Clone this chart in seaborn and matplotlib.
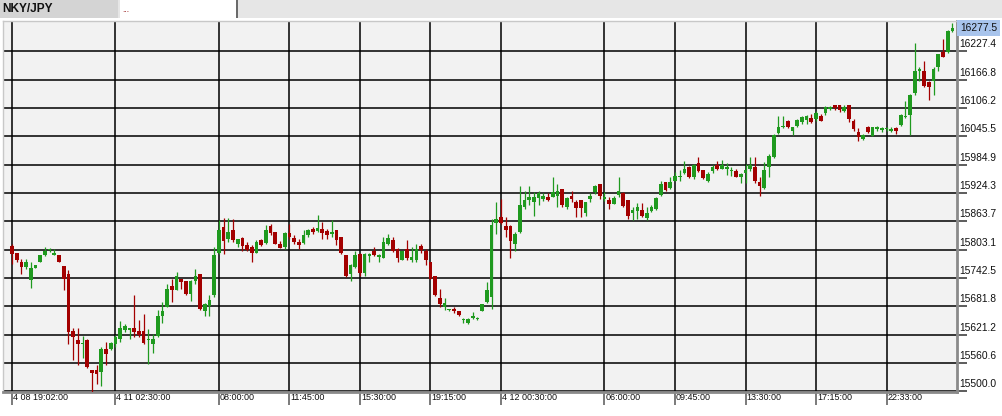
import pandas as pd
import seaborn as sns
import matplotlib.pyplot as plt
from matplotlib.patches import Rectangle
from matplotlib import transforms

# 15-minute candles, NKY/JPY
opens = [15810.9, 15795.9, 15776.6, 15765.9, 15737.3, 15764.5, 15776.6, 15790.9, 15801.6, 15792.3,
         15790.9, 15767.3, 15750.2, 15628.1, 15610.2, 15601.7, 15610.2, 15546.0, 15544.6, 15541.0,
         15589.5, 15589.5, 15600.2, 15612.4, 15630.2, 15632.0, 15635.2, 15630.0, 15630.0, 15609.0,
         15602.0, 15617.4, 15660.9, 15680.2, 15725.2, 15717.3, 15739.5, 15735.9, 15707.3, 15735.0,
         15750.2, 15671.6, 15681.6, 15705.2, 15795.9, 15851.6, 15826.6, 15844.4, 15814.4, 15828.7,
         15812.3, 15808.7, 15795.9, 15823.0, 15817.3, 15853.0, 15840.9, 15814.4, 15808.7, 15838.7,
         15828.7, 15819.4, 15817.3, 15833.7, 15848.0, 15843.0, 15846.6, 15843.0, 15835.9, 15844.4,
         15830.1, 15790.9, 15750.2, 15765.9, 15794.5, 15753.0, 15788.7, 15800.2, 15787.3, 15785.9,
         15815.9, 15824.4, 15805.2, 15780.2, 15805.2, 15780.2, 15780.2, 15810.2, 15800.2, 15776.6,
         15745.9, 15700.2, 15680.2, 15673.0, 15676.6, 15670.9, 15651.6, 15646.0, 15657.3, 15653.8,
         15671.6, 15690.9, 15701.6, 15859.3, 15872.2, 15854.3, 15854.3, 15815.0, 15840.0, 15895.0,
         15909.3, 15904.3, 15913.6, 15911.4, 15915.0, 15916.4, 15918.6, 15932.9, 15895.0, 15918.6,
         15904.3, 15909.3, 15880.7, 15911.4, 15925.7, 15943.6, 15911.4, 15909.3, 15900.7, 15920.7,
         15923.6, 15909.3, 15880.7, 15885.0, 15887.9, 15870.7, 15885.0, 15890.0, 15920.7, 15947.1,
         15934.3, 15950.7, 15957.9, 15966.4, 15979.3, 15957.9, 15987.8, 15973.6, 15949.3, 15970.7,
         15985.0, 15975.7, 15975.7, 15972.1, 15970.7, 15959.3, 15966.4, 15975.7, 15979.3, 15947.1,
         15935.0, 15979.3, 16000.7, 16052.1, 16065.0, 16079.2, 16056.4, 16068.5, 16075.7, 16080.7,
         16085.0, 16082.8, 16090.0, 16095.0, 16103.6, 16112.8, 16112.8, 16099.2, 16112.8, 16079.2,
         16054.2, 16040.0, 16065.0, 16047.1, 16061.4, 16059.2, 16061.4, 16057.8, 16063.5, 16070.6,
         16086.4, 16092.1, 16137.8, 16186.4, 16184.9, 16161.3, 16165.0, 16194.9, 16225.6, 16225.6,
         16270.6]
highs = [15815.9, 15796.0, 15783.7, 15783.7, 15776.6, 15770.0, 15792.3, 15808.7, 15806.0, 15805.2,
         15791.0, 15767.3, 15758.7, 15636.0, 15636.0, 15617.4, 15611.0, 15546.0, 15555.3, 15594.5,
         15605.2, 15605.0, 15619.5, 15650.2, 15643.0, 15636.0, 15705.2, 15653.0, 15664.5, 15633.8,
         15623.0, 15673.0, 15690.9, 15730.2, 15740.9, 15755.2, 15740.0, 15737.0, 15737.3, 15760.9,
         15750.2, 15688.0, 15705.2, 15808.7, 15865.8, 15871.6, 15871.6, 15869.4, 15827.0, 15830.0,
         15819.4, 15812.3, 15823.0, 15826.6, 15855.1, 15857.3, 15841.0, 15821.6, 15840.9, 15858.7,
         15833.7, 15826.6, 15844.4, 15848.0, 15851.6, 15876.5, 15862.0, 15848.0, 15866.0, 15845.0,
         15830.5, 15791.0, 15773.0, 15800.2, 15795.0, 15796.0, 15795.0, 15808.7, 15794.5, 15830.1,
         15835.9, 15830.1, 15806.0, 15801.0, 15824.4, 15808.7, 15815.9, 15815.9, 15805.2, 15777.0,
         15746.0, 15719.5, 15700.2, 15677.0, 15680.2, 15671.0, 15657.3, 15657.3, 15669.5, 15658.7,
         15687.3, 15733.8, 15868.6, 15904.3, 15911.5, 15872.2, 15855.0, 15840.0, 15940.0, 15927.9,
         15940.0, 15925.7, 15927.9, 15923.6, 15923.6, 15959.3, 15943.6, 15933.0, 15916.4, 15929.3,
         15909.3, 15910.0, 15905.0, 15923.6, 15942.1, 15944.0, 15925.7, 15916.4, 15918.6, 15959.3,
         15925.7, 15910.0, 15893.6, 15902.2, 15902.2, 15893.6, 15899.3, 15916.4, 15949.3, 15947.5,
         15959.3, 15968.6, 15973.6, 15992.1, 15982.9, 15985.7, 16000.7, 15974.0, 15968.6, 15985.0,
         15992.1, 15995.0, 15987.8, 15979.3, 15975.7, 15966.4, 15986.4, 16000.7, 16000.7, 15957.9,
         15990.0, 16007.8, 16050.7, 16089.9, 16089.9, 16080.7, 16065.5, 16082.8, 16089.9, 16092.1,
         16093.5, 16099.2, 16093.5, 16111.4, 16111.4, 16113.0, 16113.0, 16113.5, 16113.0, 16082.8,
         16063.5, 16050.7, 16068.5, 16065.5, 16068.5, 16066.4, 16066.4, 16065.0, 16066.4, 16093.5,
         16120.7, 16135.5, 16244.9, 16193.5, 16206.3, 16164.9, 16193.5, 16222.0, 16254.2, 16273.5,
         16287.7]
lows = [15773.0, 15776.0, 15750.2, 15762.3, 15721.6, 15763.0, 15775.9, 15790.0, 15798.0, 15792.0,
        15776.0, 15715.9, 15601.7, 15566.0, 15555.3, 15571.7, 15550.0, 15498.1, 15516.0, 15512.4,
        15555.3, 15588.0, 15594.5, 15605.0, 15626.7, 15612.4, 15616.0, 15616.0, 15600.2, 15557.4,
        15582.4, 15616.0, 15646.0, 15680.0, 15691.0, 15716.0, 15719.5, 15705.2, 15693.0, 15730.0,
        15673.0, 15660.2, 15660.2, 15701.6, 15794.5, 15793.0, 15819.0, 15819.4, 15808.7, 15800.2,
        15800.0, 15776.6, 15795.0, 15810.9, 15816.0, 15833.7, 15814.4, 15806.0, 15805.2, 15826.6,
        15815.9, 15805.2, 15815.9, 15830.0, 15835.9, 15841.0, 15826.6, 15826.6, 15830.0, 15812.3,
        15794.5, 15745.0, 15735.9, 15764.5, 15745.9, 15745.9, 15776.6, 15790.0, 15776.6, 15785.0,
        15812.3, 15798.0, 15776.6, 15780.0, 15780.2, 15776.6, 15776.6, 15795.9, 15769.5, 15739.5,
        15705.0, 15680.2, 15674.5, 15671.6, 15667.3, 15660.2, 15646.0, 15645.0, 15655.2, 15653.0,
        15671.0, 15690.0, 15676.6, 15836.5, 15857.9, 15829.3, 15785.1, 15800.8, 15839.0, 15890.0,
        15899.3, 15875.7, 15899.3, 15906.4, 15907.9, 15915.0, 15895.0, 15895.0, 15890.0, 15904.3,
        15873.6, 15873.6, 15875.7, 15904.3, 15922.1, 15911.4, 15907.9, 15890.0, 15900.0, 15915.0,
        15895.0, 15868.6, 15866.5, 15868.6, 15872.2, 15866.5, 15882.9, 15889.0, 15918.6, 15929.3,
        15932.9, 15950.0, 15949.3, 15965.0, 15956.4, 15954.3, 15970.0, 15954.3, 15949.0, 15966.4,
        15974.3, 15975.0, 15963.6, 15961.4, 15957.9, 15945.0, 15945.0, 15972.1, 15945.0, 15918.6,
        15932.9, 15959.3, 16000.0, 16050.7, 16063.5, 16063.5, 16049.3, 16065.0, 16072.1, 16072.1,
        16073.5, 16079.2, 16079.0, 16092.1, 16102.1, 16102.1, 16097.1, 16097.1, 16075.7, 16057.8,
        16035.0, 16037.8, 16052.1, 16047.0, 16057.8, 16054.2, 16057.8, 16054.2, 16050.7, 16068.5,
        16085.0, 16049.3, 16135.0, 16165.0, 16150.6, 16123.5, 16135.0, 16185.0, 16214.9, 16225.0,
        16270.0]
closes = [15794.4, 15780.2, 15765.9, 15776.6, 15764.5, 15769.5, 15790.9, 15800.2, 15805.2, 15795.9,
          15776.6, 15739.5, 15626.7, 15616.0, 15600.2, 15603.1, 15551.7, 15538.9, 15536.0, 15591.0,
          15580.2, 15603.8, 15615.9, 15635.2, 15638.8, 15635.0, 15626.7, 15619.5, 15603.1, 15612.4,
          15612.4, 15660.9, 15671.6, 15719.5, 15716.0, 15745.9, 15733.8, 15707.3, 15735.9, 15745.9,
          15676.6, 15685.9, 15694.5, 15790.9, 15844.4, 15821.6, 15840.9, 15823.0, 15826.6, 15810.2,
          15803.1, 15795.9, 15819.4, 15812.3, 15845.9, 15838.7, 15815.9, 15807.3, 15838.7, 15830.1,
          15819.4, 15812.3, 15833.7, 15845.9, 15840.9, 15849.4, 15839.4, 15835.2, 15840.9, 15824.4,
          15795.9, 15745.9, 15769.5, 15790.9, 15753.0, 15794.5, 15794.5, 15790.9, 15790.9, 15819.4,
          15828.7, 15800.2, 15785.9, 15800.2, 15785.9, 15787.3, 15805.2, 15803.1, 15781.6, 15740.9,
          15705.2, 15685.9, 15688.8, 15676.6, 15671.6, 15662.3, 15655.2, 15655.2, 15660.2, 15657.3,
          15685.9, 15717.3, 15855.1, 15868.6, 15859.3, 15845.0, 15820.8, 15836.5, 15899.3, 15909.3,
          15915.0, 15915.0, 15923.6, 15918.6, 15909.3, 15925.7, 15929.3, 15899.3, 15913.6, 15911.4,
          15892.2, 15892.2, 15904.3, 15918.6, 15940.0, 15918.6, 15915.0, 15900.7, 15913.6, 15929.3,
          15897.2, 15875.7, 15887.9, 15895.0, 15875.7, 15880.7, 15895.0, 15913.6, 15943.6, 15930.7,
          15948.6, 15961.4, 15961.4, 15975.7, 15957.9, 15985.0, 15970.7, 15956.4, 15965.0, 15979.3,
          15975.7, 15985.0, 15979.3, 15974.3, 15959.3, 15965.0, 15974.3, 15985.0, 15949.3, 15940.0,
          15974.3, 16004.3, 16049.3, 16065.0, 16068.5, 16065.0, 16065.0, 16080.7, 16086.4, 16089.9,
          16075.7, 16095.0, 16079.2, 16109.2, 16109.2, 16106.4, 16102.1, 16109.2, 16082.8, 16061.4,
          16045.0, 16048.5, 16054.2, 16065.0, 16066.4, 16063.5, 16063.5, 16061.4, 16057.8, 16092.1,
          16090.0, 16135.0, 16184.9, 16190.0, 16154.2, 16150.6, 16190.0, 16221.7, 16216.3, 16270.6,
          16277.5]

x_tick_pos = [0, 22, 44, 59, 74, 89, 104, 126, 141, 156, 171, 186]
x_tick_labels = ["4 08 19:02:00", "4 11 02:30:00", "08:00:00", "11:45:00", "15:30:00",
                 "19:15:00", "4 12 00:30:00", "06:00:00", "09:45:00", "13:30:00",
                 "17:15:00", "22:33:00"]
y_ticks = [15500.0, 15560.6, 15621.2, 15681.8, 15742.5, 15803.1, 15863.7,
           15924.3, 15984.9, 16045.5, 16106.2, 16166.8, 16227.4]
last_price = 16277.5

sns.set_style("white")
plt.rcParams['font.family'] = ['Liberation Sans', 'DejaVu Sans']

df = pd.DataFrame({'open': opens, 'high': highs, 'low': lows, 'close': closes})
df['up'] = df['close'] >= df['open']
df['bottom'] = df[['open', 'close']].min(axis=1)
df['size'] = (df['close'] - df['open']).abs().clip(lower=1.8)
colors = df['up'].map({True: '#1f9a1f', False: '#a30000'})

W, H = 1003, 416
fig = plt.figure(figsize=(W / 100, H / 100), dpi=100)
fig.patch.set_facecolor('white')


def px_rect(x0, y0, x1, y1, color):
    fig.patches.append(Rectangle((x0 / W, 1 - y1 / H), (x1 - x0) / W, (y1 - y0) / H,
                                 transform=fig.transFigure, color=color, lw=0, zorder=0))


# header bar
px_rect(0, 0, W, 18, '#e6e6e6')
px_rect(0, 0, 118, 18, '#d4d4d4')
px_rect(120, 0, 236, 18, 'white')
px_rect(236, 0, 238, 18, '#6a6a6a')
fig.text(2 / W, 1 - 9.5 / H, "NKY/JPY", fontsize=8.6, fontweight='bold', va='center', color='#111111')
fig.text(122 / W, 1 - 11 / H, "...", fontsize=6, va='center', color='#8b0000')

ax = fig.add_axes([3 / W, 1 - 392 / H, 954 / W, 371 / H])
ax.set_facecolor('#f2f2f2')

# candles
ax.vlines(df.index, df['low'], df['high'], colors=colors, lw=0.9, zorder=3)
ax.bar(df.index, df['size'], bottom=df['bottom'], width=0.78, color=colors, lw=0, zorder=4)

ax.set_xlim(-1.91, 200.98)
ax.set_ylim(15498.5, 16292.5)
ax.set_xticks(x_tick_pos)
ax.set_yticks(y_ticks)
ax.set_axisbelow(True)
ax.grid(True, color='black', lw=1.1)

ax.tick_params(axis='x', bottom=True, direction='out', length=9, width=1.3, color='#707070',
               labelbottom=False)
ax.tick_params(axis='y', left=False, right=True, direction='out', length=7, width=1.1,
               color='#303030', labelleft=False, labelright=False)

for side in ['left', 'top']:
    ax.spines[side].set_color('#c8c8c8')
    ax.spines[side].set_linewidth(1)
for side in ['right', 'bottom']:
    ax.spines[side].set_color('#8a8a8a')
    ax.spines[side].set_linewidth(2)

# y labels just above each grid line
ytr = transforms.offset_copy(transforms.blended_transform_factory(ax.transAxes, ax.transData),
                             fig=fig, x=2, y=2, units='dots')
for v in y_ticks:
    ax.text(1.0, v, f"{v:.1f}", transform=ytr, ha='left', va='bottom', fontsize=7.4,
            color='#111111', clip_on=False)

# current price box
ptr = transforms.offset_copy(transforms.blended_transform_factory(ax.transAxes, ax.transData),
                             fig=fig, x=3, y=0, units='dots')
ax.text(1.0, last_price, f"{last_price:.1f}", transform=ptr, ha='left', va='center', fontsize=7.4,
        color='#111111', clip_on=False,
        bbox=dict(facecolor='#a8c4ec', edgecolor='none', boxstyle='square,pad=0.25'))

# x labels left-aligned at each grid line
xtr = transforms.offset_copy(transforms.blended_transform_factory(ax.transData, ax.transAxes),
                             fig=fig, x=1, y=-5, units='dots')
for p, lab in zip(x_tick_pos, x_tick_labels):
    ax.text(p, 0, lab, transform=xtr, ha='left', va='center', fontsize=6.5, color='#111111',
            clip_on=False)

fig.savefig('out.png', dpi=100, facecolor='white')
